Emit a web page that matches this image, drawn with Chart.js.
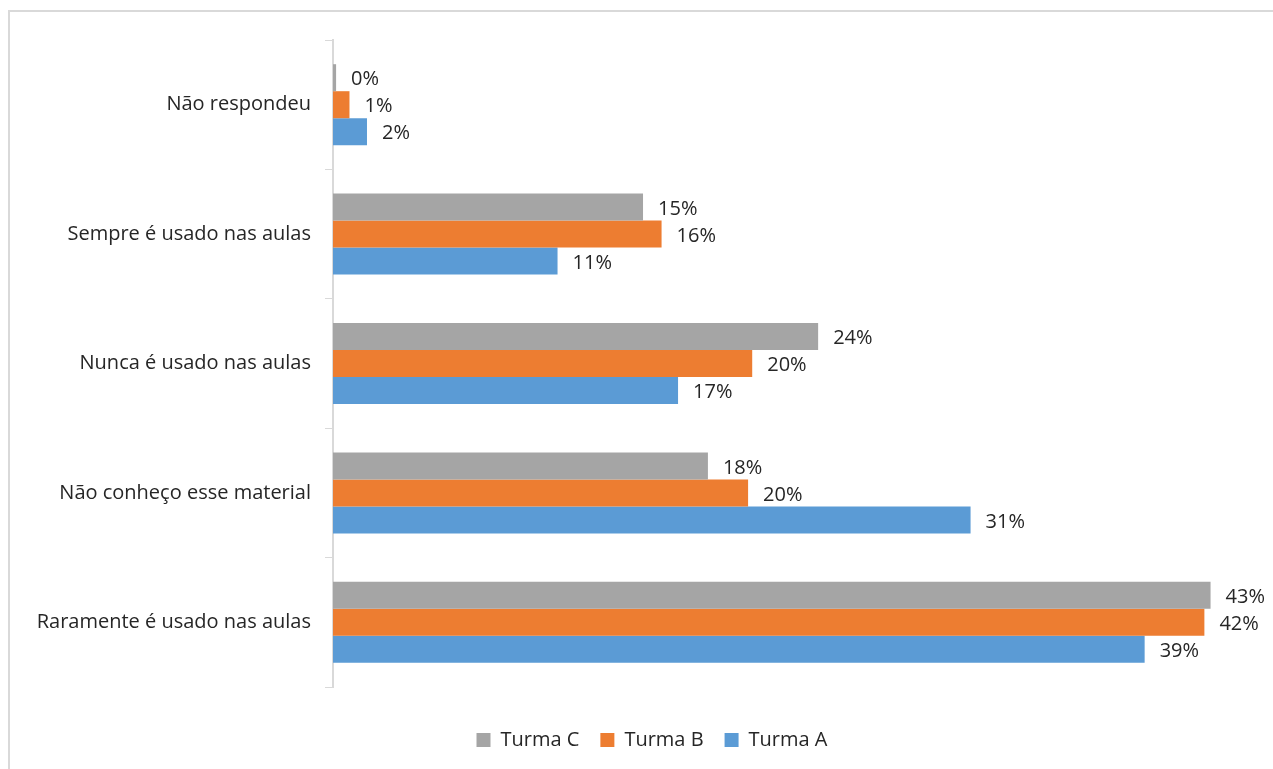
<!DOCTYPE html>
<html>
<head>
<meta charset="utf-8">
<script src="https://cdn.jsdelivr.net/npm/chart.js@4.4.0/dist/chart.umd.min.js"></script>
<style>
  html, body { margin: 0; padding: 0; background: #ffffff; overflow: hidden; }
  #frame {
    position: absolute; left: 8px; top: 10px; width: 1320px; height: 820px;
    border: 2px solid #d9d9d9; box-sizing: border-box;
  }
  #wrap { position: absolute; left: 0; top: 0; width: 1273px; height: 769px; }
</style>
</head>
<body>
<div id="frame"></div>
<div id="wrap"><canvas id="myChart"></canvas></div>
<script>
// categories, top to bottom
var categories = [
    "Não respondeu",
    "Sempre é usado nas aulas",
    "Nunca é usado nas aulas",
    "Não conheço esse material",
    "Raramente é usado nas aulas"
];

// values in %
var turmaC = [0.15, 15.05, 23.55, 18.2, 42.6];
var turmaB = [0.8, 15.95, 20.35, 20.15, 42.3];
var turmaA = [1.65, 10.9, 16.75, 30.95, 39.4];

var labelFont = "'Open Sans', sans-serif";
var textColor = "#262626";

// draw the value labels at the end of each bar
var valueLabels = {
    id: "valueLabels",
    afterDatasetsDraw: function(chart) {
        var ctx = chart.ctx;
        ctx.save();
        ctx.font = "20px " + labelFont;
        ctx.fillStyle = textColor;
        ctx.textAlign = "left";
        ctx.textBaseline = "middle";
        chart.data.datasets.forEach(function(ds, i) {
            chart.getDatasetMeta(i).data.forEach(function(bar, j) {
                ctx.fillText(Math.round(ds.data[j]) + "%", bar.x + 15, bar.y + 2);
            });
        });
        ctx.restore();
    }
};

// the legend sits a bit right of the canvas centre in the original
var legendShift = {
    id: "legendShift",
    afterLayout: function(chart) {
        chart.legend.left += 18;
        chart.legend.right += 18;
    }
};

var ctx = document.getElementById("myChart");
var myChart = new Chart(ctx, {
    type: "bar",
    data: {
        labels: categories,
        datasets: [
            { label: "Turma C", data: turmaC, backgroundColor: "#a5a5a5" },
            { label: "Turma B", data: turmaB, backgroundColor: "#ed7d31" },
            { label: "Turma A", data: turmaA, backgroundColor: "#5b9bd5" }
        ]
    },
    options: {
        indexAxis: "y",
        responsive: true,
        maintainAspectRatio: false,
        animation: false,
        events: [],
        categoryPercentage: 0.626,
        barPercentage: 1.0,
        layout: {
            padding: { top: 40, left: 8, right: 13, bottom: 9 }
        },
        plugins: {
            legend: {
                position: "bottom",
                labels: {
                    boxWidth: 14,
                    boxHeight: 14,
                    padding: 21,
                    color: textColor,
                    font: { family: labelFont, size: 20 }
                }
            },
            tooltip: { enabled: false }
        },
        scales: {
            x: {
                display: true,
                min: 0,
                max: 45,
                afterFit: function(scale) { scale.height = 22; },
                grid: { display: false },
                border: { display: false },
                ticks: { display: false }
            },
            y: {
                afterFit: function(scale) { scale.width = 325; },
                grid: {
                    display: true,
                    drawOnChartArea: false,
                    drawTicks: true,
                    tickLength: 8,
                    color: "#d9d9d9",
                    offset: true
                },
                border: { display: true, color: "#d9d9d9", width: 2 },
                ticks: {
                    padding: 14,
                    color: textColor,
                    font: { family: labelFont, size: 20 }
                }
            }
        }
    },
    plugins: [valueLabels, legendShift]
});
</script>
</body>
</html>
